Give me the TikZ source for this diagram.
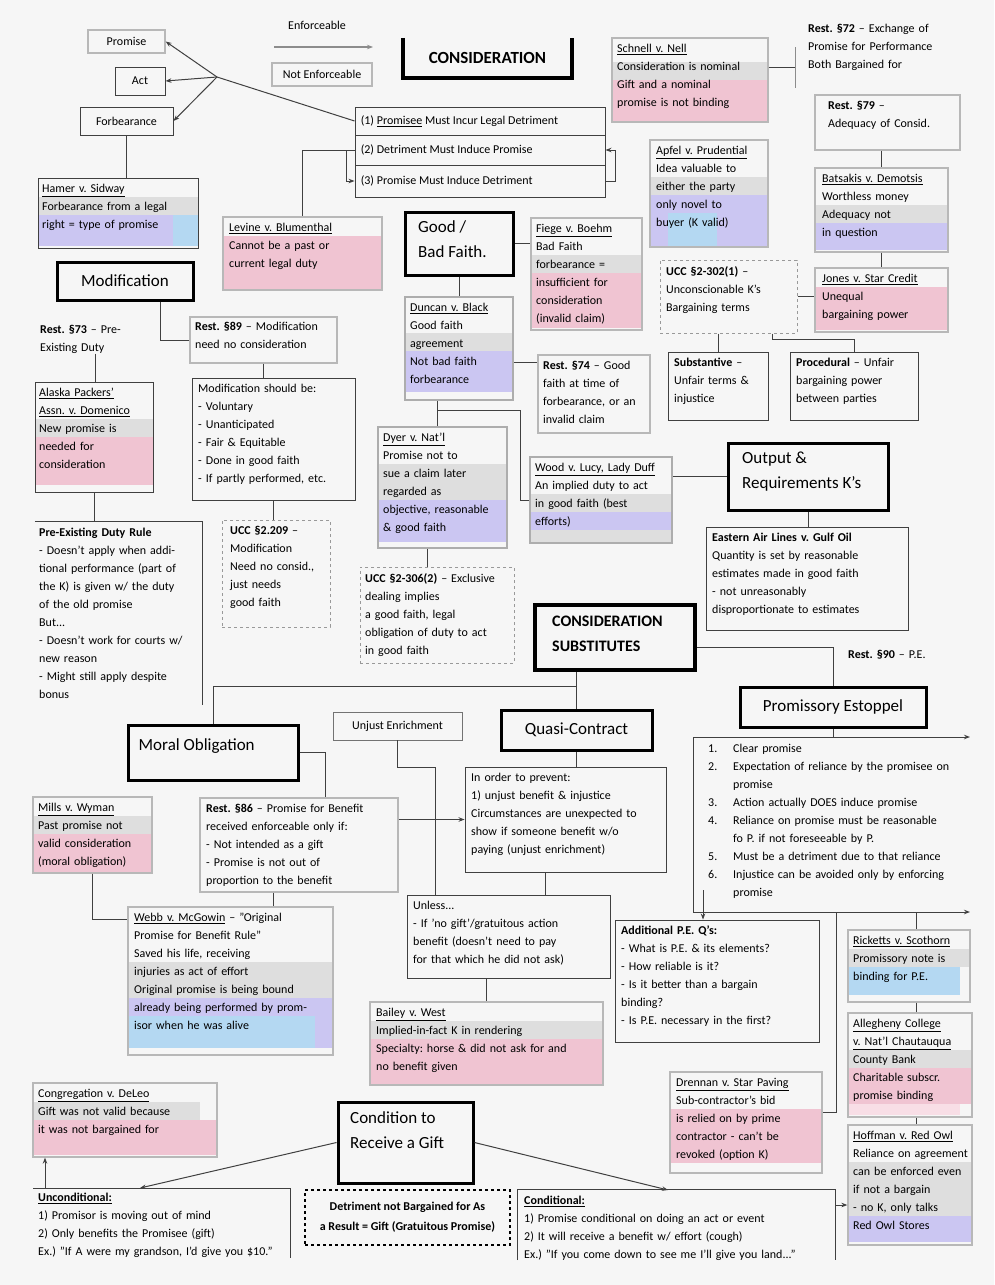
\documentclass[tikz,border=0pt]{standalone}
\usepackage{fontspec}
\setmainfont{Carlito}
\usetikzlibrary{fit,arrows.meta}
\frenchspacing
\definecolor{bgc}{RGB}{246,246,246}
\definecolor{pinkc}{RGB}{240,196,210}
\definecolor{lpinkc}{RGB}{248,222,230}
\definecolor{lavc}{RGB}{203,198,242}
\definecolor{bluec}{RGB}{180,216,242}
\definecolor{greyc}{RGB}{222,222,222}
\newcommand\bx[6]{\node[#1, fit={(#3,#4)(#5,#6)}] (#2) {};}
\newcommand\tx[6][]{\node[txt,text width=#5pt,#1] (#2) at (#3,#4) {#6};}
\begin{document}
\begin{tikzpicture}[x=1pt,y=-1pt, >={Stealth[length=6pt,width=4.5pt]},
 txt/.style={anchor=north west, inner sep=0pt, align=left, font=\fontsize{12}{18}\selectfont},
 ttl/.style={inner sep=0pt, align=left, font=\fontsize{17}{25}\selectfont},
 pbox/.style={draw=black!75, line width=0.9pt, inner sep=0pt},
 lbox/.style={draw=black!28, line width=1.3pt, inner sep=0pt},
 sbox/.style={draw=black!32, line width=2.4pt, inner sep=0pt},
 hbox/.style={draw=black, line width=3pt, inner sep=0pt},
 dbox/.style={draw=black!40, line width=1pt, dashed, inner sep=0pt},
 conn/.style={draw=black!75, line width=1pt},
]
\useasboundingbox (0,0) rectangle (994,1285);
\fill[bgc] (0,0) rectangle (994,1285);

% ---------------- colour bands ----------------
\fill[greyc] (38,197) rectangle (198,215);
\fill[lavc] (38,215) rectangle (198,246);
\fill[bluec] (173,215) rectangle (198,246);
\fill[pinkc] (223,236) rectangle (382,289);
\fill[greyc] (35,419) rectangle (153,437);
\fill[pinkc] (35,437) rectangle (153,485);
\fill[greyc] (531,255) rectangle (642,273);
\fill[pinkc] (531,273) rectangle (642,328);
\fill[greyc] (405,333) rectangle (513,351);
\fill[lavc] (405,351) rectangle (513,392);
\fill[greyc] (378,464) rectangle (507,500);
\fill[lavc] (378,500) rectangle (507,542);
\fill[greyc] (530,494) rectangle (672,512);
\fill[lavc] (530,512) rectangle (672,530);
\fill[greyc] (530,530) rectangle (672,543);
\fill[greyc] (612,62) rectangle (768,80);
\fill[pinkc] (612,80) rectangle (768,121);
\fill[greyc] (650,177) rectangle (768,195);
\fill[lavc] (650,195) rectangle (768,247);
\fill[bluec] (668,213) rectangle (717,247);
\fill[greyc] (815,205) rectangle (948,223);
\fill[lavc] (815,223) rectangle (948,250);
\fill[pinkc] (815,287) rectangle (948,330);
\fill[greyc] (33,816) rectangle (152,834);
\fill[pinkc] (33,834) rectangle (152,872);
\fill[greyc] (128,962) rectangle (333,998);
\fill[lavc] (128,998) rectangle (333,1048);
\fill[bluec] (128,1016) rectangle (315,1048);
\fill[greyc] (370,1021) rectangle (603,1039);
\fill[pinkc] (370,1039) rectangle (603,1084);
\fill[greyc] (848,949) rectangle (970,967);
\fill[bluec] (848,967) rectangle (960,995);
\fill[greyc] (848,1050) rectangle (972,1068);
\fill[pinkc] (848,1068) rectangle (972,1104);
\fill[lpinkc] (848,1104) rectangle (960,1115);
\fill[greyc] (848,1162) rectangle (972,1216);
\fill[lavc] (848,1216) rectangle (972,1242);
\fill[pinkc] (670,1109) rectangle (822,1163);
\fill[greyc] (33,1102) rectangle (200,1120);
\fill[pinkc] (33,1120) rectangle (217,1155);

% ---------------- top left ----------------
\bx{lbox}{pay}{88}{30}{165}{53}
\node[txt, anchor=center] (payT) at (pay.center) {Promise};
\bx{pbox}{act}{115}{67}{165}{95}
\node[txt, anchor=center] (actT) at (act.center) {Act};
\bx{pbox}{forb}{80}{107}{173}{135}
\node[txt, anchor=center] (forbT) at (forb.center) {Forbearance};
\coordinate (hub) at (217,77);

\node[txt] (enfT) at (288,21) {Enforceable};
\coordinate (el) at (274,47); \coordinate (er) at (373,47);
\draw[->, draw=black!45, line width=2pt] (el) -- (er);
\bx{lbox}{nenf}{272}{63}{372}{86}
\node[txt, anchor=center] (nenfT) at (nenf.center) {Not Enforceable};

\node[inner sep=0pt, fit={(403,38)(572,78)}] (cons) {};
\draw[line width=3.5pt] (cons.north west) -- (cons.south west) -- (cons.south east) -- (cons.north east);
\node[inner sep=0pt, font=\bfseries\fontsize{17}{20}\selectfont] (consT) at (cons.center) {CONSIDERATION};

\bx{pbox}{r1}{355}{107}{605}{135}
\bx{pbox}{r2}{355}{135}{605}{165}
\bx{pbox}{r3}{355}{165}{605}{197}
\node[txt, anchor=west] (r1T) at ([xshift=6pt]r1.west) {(1) \underline{Promisee} Must Incur Legal Detriment};
\node[txt, anchor=west] (r2T) at ([xshift=6pt]r2.west) {(2) Detriment Must Induce Promise};
\node[txt, anchor=west] (r3T) at ([xshift=6pt]r3.west) {(3) Promise Must Induce Detriment};

\bx{pbox}{hamer}{38}{178}{198}{248}
\tx{hamerT}{42}{184}{152}{\underline{Hamer v. Sidway}\\Forbearance from a legal\\right = type of promise}
\bx{lbox}{levine}{223}{217}{382}{290}
\tx{levineT}{229}{223}{150}{\underline{Levine v. Blumenthal}\\Cannot be a past or\\current legal duty}

% ---------------- modification ----------------
\bx{hbox}{modif}{57}{262}{193}{300}
\node[ttl, anchor=center] (modifT) at (modif.center) {Modification};
\tx{rest73}{40}{325}{110}{\textbf{Rest. §73} – Pre-\\Existing Duty}
\bx{lbox}{rest89}{190}{317}{337}{363}
\tx{rest89T}{195}{322}{140}{\textbf{Rest. §89} – Modification\\need no consideration}
\bx{pbox}{alaska}{35}{382}{153}{492}
\tx{alaskaT}{39}{388}{112}{\underline{Alaska Packers'}\\\underline{Assn. v. Domenico}\\New promise is\\needed for\\consideration}
\bx{pbox}{msb}{192}{378}{355}{500}
\tx{msbT}{198}{384}{155}{Modification should be:\\ - Voluntary\\ - Unanticipated\\ - Fair \& Equitable\\ - Done in good faith\\ - If partly performed, etc.}
\bx{dbox}{ucc209}{222}{520}{330}{627}
\tx{ucc209T}{230}{526}{98}{\textbf{UCC §2.209} –\\Modification\\Need no consid.,\\just needs\\good faith}
\node[inner sep=0pt, fit={(35,522)(202,705)}] (pedr) {};
\draw[conn] (pedr.north west) -- (pedr.north east) -- (pedr.south east);
\tx{pedrT}{39}{528}{162}{\textbf{Pre-Existing Duty Rule}\\ - Doesn't apply when addi-\\tional performance (part of\\the K) is given w/ the duty\\of the old promise\\But...\\ - Doesn't work for courts w/\\new reason\\ - Might still apply despite\\bonus}

% ---------------- good / bad faith ----------------
\bx{hbox}{gbf}{405}{212}{513}{275}
\node[ttl, anchor=north west] (gbfT) at (418,220) {Good /\\Bad Faith.};
\bx{lbox}{fiege}{531}{218}{642}{330}
\tx{fiegeT}{536}{224}{104}{\underline{Fiege v. Boehm}\\Bad Faith\\forbearance =\\insufficient for\\consideration\\(invalid claim)}
\bx{sbox}{dun}{405}{297}{513}{400}
\tx{dunT}{410}{303}{100}{\underline{Duncan v. Black}\\Good faith\\agreement\\Not bad faith\\forbearance}
\bx{lbox}{r74}{538}{355}{650}{433}
\tx{r74T}{543}{361}{105}{\textbf{Rest. §74} – Good\\faith at time of\\forbearance, or an\\invalid claim}
\bx{sbox}{dyer}{378}{427}{507}{548}
\tx{dyerT}{383}{433}{122}{\underline{Dyer v. Nat'l}\\Promise not to\\sue a claim later\\regarded as\\objective, reasonable\\\& good faith}
\bx{sbox}{wood}{530}{457}{672}{543}
\tx{woodT}{535}{463}{135}{\underline{Wood v. Lucy, Lady Duff}\\An implied duty to act\\in good faith (best\\efforts)}
\bx{hbox}{out}{728}{443}{888}{510}
\node[ttl, anchor=north west] (outT) at (742,452) {Output \&\\Requirements K's};
\bx{pbox}{east}{706}{527}{908}{630}
\tx{eastT}{712}{533}{192}{\textbf{Eastern Air Lines v. Gulf Oil}\\Quantity is set by reasonable\\estimates made in good faith\\ - not unreasonably\\disproportionate to estimates}
\bx{dbox}{u306}{360}{567}{514}{663}
\tx{u306T}{365}{573}{146}{\textbf{UCC §2-306(2)} – Exclusive\\dealing implies\\a good faith, legal\\obligation of duty to act\\in good faith}

% ---------------- top right ----------------
\bx{lbox}{sch}{612}{38}{768}{122}
\tx{schT}{617}{44}{148}{\underline{Schnell v. Nell}\\Consideration is nominal\\Gift and a nominal\\promise is not binding}
\tx{r72}{808}{24}{160}{\textbf{Rest. §72} – Exchange of\\Promise for Performance\\Both Bargained for}
\coordinate (bk1) at (795,47); \coordinate (bk2) at (795,88); \coordinate (r72c) at (795,67);
\bx{lbox}{r79}{815}{95}{960}{150}
\tx{r79T}{828}{101}{125}{\textbf{Rest. §79} –\\Adequacy of Consid.}
\bx{lbox}{apf}{650}{140}{768}{247}
\tx{apfT}{656}{146}{110}{\underline{Apfel v. Prudential}\\Idea valuable to\\either the party\\only novel to\\buyer (K valid)}
\bx{lbox}{bat}{815}{168}{948}{252}
\tx{batT}{822}{174}{124}{\underline{Batsakis v. Demotsis}\\Worthless money\\Adequacy not\\in question}
\bx{lbox}{jon}{815}{268}{948}{332}
\tx{jonT}{822}{274}{124}{\underline{Jones v. Star Credit}\\Unequal\\bargaining power}
\bx{dbox}{u302}{660}{260}{797}{333}
\tx{u302T}{666}{266}{128}{\textbf{UCC §2-302(1)} –\\Unconscionable K's\\Bargaining terms}
\bx{pbox}{sub}{668}{352}{768}{420}
\tx{subT}{674}{358}{92}{\textbf{Substantive} –\\Unfair terms \&\\injustice}
\bx{pbox}{proc}{790}{352}{918}{420}
\tx{procT}{796}{358}{120}{\textbf{Procedural} – Unfair\\bargaining power\\between parties}

% ---------------- substitutes ----------------
\bx{hbox, line width=4pt}{cs}{535}{605}{695}{670}
\node[inner sep=0pt, anchor=north west, align=left, font=\bfseries\fontsize{16}{25}\selectfont] (csT) at (552,616) {CONSIDERATION\\SUBSTITUTES};
\tx{r90}{848}{650}{110}{\textbf{Rest. §90} – P.E.}
\bx{hbox}{pe}{740}{687}{926}{727}
\node[ttl, anchor=center] (peT) at (pe.center) {Promissory Estoppel};
\coordinate (pl1) at (693,737); \coordinate (pl2) at (970,737);
\coordinate (pl3) at (693,912); \coordinate (pl4) at (970,912);
\tx{pelT}{708}{744}{262}{\makebox[25pt][l]{1.}Clear promise\\\makebox[25pt][l]{2.}Expectation of reliance by the promisee on\\\hspace*{25pt}promise\\\makebox[25pt][l]{3.}Action actually DOES induce promise\\\makebox[25pt][l]{4.}Reliance on promise must be reasonable\\\hspace*{25pt}fo P. if not foreseeable by P.\\\makebox[25pt][l]{5.}Must be a detriment due to that reliance\\\makebox[25pt][l]{6.}Injustice can be avoided only by enforcing\\\hspace*{25pt}promise}

\bx{hbox}{mo}{128}{725}{298}{780}
\node[ttl, anchor=west] (moT) at ([xshift=12pt,yshift=6pt]mo.west) {Moral Obligation};
\bx{pbox, draw=black!55}{ue}{333}{712}{462}{740}
\node[txt, anchor=center] (ueT) at (ue.center) {Unjust Enrichment};
\bx{hbox}{qc}{501}{710}{652}{750}
\node[ttl, anchor=center] (qcT) at (qc.center) {Quasi-Contract};

\bx{lbox}{mills}{33}{797}{152}{873}
\tx{millsT}{38}{803}{112}{\underline{Mills v. Wyman}\\Past promise not\\valid consideration\\(moral obligation)}
\bx{lbox}{r86}{200}{798}{398}{892}
\tx{r86T}{206}{804}{190}{\textbf{Rest. §86} – Promise for Benefit\\received enforceable only if:\\ - Not intended as a gift\\ - Promise is not out of\\proportion to the benefit}
\bx{lbox}{webb}{128}{907}{333}{1055}
\tx{webbT}{134}{913}{197}{\underline{Webb v. McGowin} – "Original\\Promise for Benefit Rule"\\Saved his life, receiving\\injuries as act of effort\\Original promise is being bound\\already being performed by prom-\\isor when he was alive}
\bx{pbox}{iop}{465}{767}{666}{872}
\tx{iopT}{471}{773}{192}{In order to prevent:\\1) unjust benefit \& injustice\\Circumstances are unexpected to\\show if someone benefit w/o\\paying (unjust enrichment)}
\bx{pbox}{unl}{407}{895}{610}{978}
\tx{unlT}{413}{901}{194}{Unless...\\ - If 'no gift'/gratuitous action\\benefit (doesn't need to pay\\for that which he did not ask)}
\bx{lbox}{bai}{370}{1002}{603}{1085}
\tx{baiT}{376}{1008}{224}{\underline{Bailey v. West}\\Implied-in-fact K in rendering\\Specialty: horse \& did not ask for and\\no benefit given}
\bx{pbox}{add}{615}{920}{819}{1042}
\tx{addT}{621}{926}{194}{\textbf{Additional P.E. Q's:}\\ - What is P.E. \& its elements?\\ - How reliable is it?\\ - Is it better than a bargain\\binding?\\ - Is P.E. necessary in the first?}

\bx{lbox}{ric}{848}{930}{970}{1002}
\tx{ricT}{853}{936}{116}{\underline{Ricketts v. Scothorn}\\Promissory note is\\binding for P.E.}
\bx{lbox}{alg}{848}{1013}{972}{1117}
\tx{algT}{853}{1019}{118}{\underline{Allegheny College}\\\underline{v. Nat'l Chautauqua}\\County Bank\\Charitable subscr.\\promise binding}
\bx{lbox}{hof}{848}{1125}{972}{1245}
\tx{hofT}{853}{1131}{118}{\underline{Hoffman v. Red Owl}\\Reliance on agreement\\can be enforced even\\if not a bargain\\ - no K, only talks\\Red Owl Stores}
\bx{lbox}{drn}{670}{1072}{822}{1173}
\tx{drnT}{676}{1078}{144}{\underline{Drennan v. Star Paving}\\Sub-contractor's bid\\is relied on by prime\\contractor - can't be\\revoked (option K)}

% ---------------- gifts ----------------
\bx{lbox}{cong}{33}{1083}{217}{1157}
\tx{congT}{38}{1089}{175}{\underline{Congregation v. DeLeo}\\Gift was not valid because\\it was not bargained for}
\bx{hbox}{cond}{338}{1102}{473}{1183}
\node[ttl, anchor=north west] (condT) at (350,1111) {Condition to\\Receive a Gift};
\coordinate (ua) at (33,1188); \coordinate (ub) at (290,1188); \coordinate (uc) at (290,1258);
\draw[conn] (ua) -- (ub) -- (uc);
\tx{uncT}{38}{1193}{250}{\underline{\textbf{Unconditional:}}\\1) Promisor is moving out of mind\\2) Only benefits the Promisee (gift)\\Ex.) "If A were my grandson, I'd give you \$10."}
\bx{dbox, draw=black, line width=1.6pt, dash pattern=on 3pt off 3pt}{dsh}{305}{1190}{510}{1245}
\node[txt, anchor=center, align=center, font=\bfseries\fontsize{12}{20}\selectfont] (dshT) at (dsh.center) {Detriment not Bargained for As\\a Result = Gift (Gratuitous Promise)};
\node[inner sep=0pt, fit={(518,1190)(835,1260)}] (kirk) {};
\draw[conn] (kirk.south west) -- (kirk.north west) -- (kirk.north east) -- (kirk.south east);
\tx{kirkT}{524}{1196}{305}{\underline{\textbf{Conditional:}}\\1) Promise conditional on doing an act or event\\2) It will receive a benefit w/ effort (cough)\\Ex.) "If you come down to see me I'll give you land..."}

% ---------------- connectors ----------------
\draw[conn,->] (hub) -- (pay.east);
\draw[conn,->] (hub) -- (act.east);
\draw[conn,->] (hub) -- (forb.east);
\draw[conn] (hub) -- (r1.west);
\draw[conn,->] (r3.east) -- ++(10,0) |- (r2.east);
\draw[conn] (r2.west) -| (levine.north);
\draw[conn,->] ([xshift=-8pt]r2.west) |- (r3.west);
\draw[conn] (forb.south) -- (forb.south |- hamer.north);
\draw[conn] ([xshift=35pt]modif.south) |- (rest89.west);
\draw[conn] (rest73.south) -- (rest73.south |- alaska.north);
\draw[conn] (rest89.south) -- (rest89.south |- msb.north);
\draw[conn] (msb.south) -- (msb.south |- ucc209.north);
\draw[conn] (alaska.south) -- (alaska.south |- pedr.north);
\draw[conn] (gbf.east) -- (gbf.east -| fiege.west);
\draw[conn] (gbf.south) -- (gbf.south |- dun.north);
\draw[conn] ([yshift=-14pt]dun.east) -- ([yshift=-14pt]dun.east -| r74.west);
\draw[conn] ([xshift=-22pt]dun.south) -- ([xshift=-22pt]dun.south |- dyer.north);
\coordinate (j1) at (437,410); \coordinate (j2) at (520,410);
\draw[conn] (j1) -- (j2) |- (wood.west);
\draw[conn] (wood.east |- out.west) -- (out.west);
\draw[conn] (out.south) -- (out.south |- east.north);
\draw[conn] ([xshift=-15pt]dyer.south) -- ([xshift=-15pt]dyer.south |- u306.north);
\draw[conn] ([yshift=13pt]sch.east) -- (r72c);
\draw[conn, draw=black!45] (bk1) -- (bk2);
\draw[conn] (r79.south -| bat.north) -- (bat.north);
\draw[conn] (bat.south) -- (bat.south |- jon.north);
\draw[conn] (u302.east) -- (u302.east -| jon.west);
\draw[conn] (u302.south -| sub.north) -- (sub.north);
\draw[conn] ([xshift=44pt]u302.south) -- ++(0,6) -| (proc.north);
\draw[conn] ([yshift=-10pt]cs.east) -| (pe.north);
\draw[conn] (cs.south -| qc.north) -- (qc.north);
\coordinate (hj) at (577,686);
\draw[conn] (hj) -| (mo.north);
\draw[conn] (ue.south) -- ++(0,27) -| ([xshift=-73.5pt]unl.north);
\draw[conn,->] (iop.west -| r86.east) -- (iop.west);
\draw[conn] (mo.east) -| ([xshift=26pt]r86.north);
\draw[conn] (mills.south) |- ([yshift=-13pt]webb.north west);
\draw[conn] ([xshift=-26pt]r86.south) -- ([xshift=-26pt]r86.south |- webb.north);
\draw[conn] (qc.south) -- (qc.south |- iop.north);
\draw[conn] ([xshift=-20pt]iop.south) -- ([xshift=-20pt]iop.south |- unl.north);
\draw[conn] (unl.south -| bai.north) -- (bai.north);
\draw[conn] (pe.south) -- (pe.south |- pl1);
\draw[conn] (pl1) -- (pl3);
\draw[conn,->] (pl1) -- (pl2);
\draw[conn,->] (pl3) -- (pl4);
\coordinate (pa) at (703,890);
\draw[conn,->] (pa) -- (pa |- add.north);
\coordinate (rc1) at (836,912);
\draw[conn] (rc1) |- ([yshift=10pt]drn.east);
\coordinate (pb) at (916,912);
\draw[conn] (pb) -- (pb |- ric.north);
\draw[conn] (ric.south -| pb) -- (pb |- alg.north);
\draw[conn] (alg.south -| pb) -- (pb |- hof.north);
\draw[conn,->] ([yshift=20pt]kirk.east) -- ([yshift=20pt]kirk.east -| hof.west);
\coordinate (u1) at (45,1188);
\draw[conn,->] (u1) -- (u1 |- cong.south);
\coordinate (cl) at (140,1188);
\draw[conn,->] (cond.west) -- (cl);
\coordinate (cr) at (668,1190);
\draw[conn,->] (cond.east) -- (cr);
\end{tikzpicture}
\end{document}
